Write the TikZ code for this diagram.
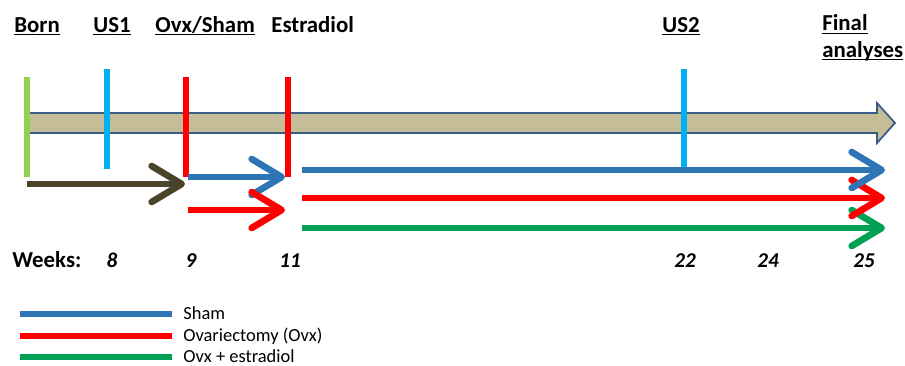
\documentclass[tikz,border=0pt]{standalone}
\usepackage{fontspec}
\setmainfont{Carlito}
\usetikzlibrary{arrows.meta}
\newcommand{\hdrline}[1]{\underline{\smash{#1}}}
\definecolor{tanbody}{HTML}{C4BD97}
\definecolor{tanedge}{HTML}{385D8A}
\definecolor{borngreen}{HTML}{92D050}
\definecolor{uscyan}{HTML}{00B0F0}
\definecolor{ovxred}{HTML}{FF0000}
\definecolor{preolive}{RGB}{74,69,42}
\definecolor{shamblue}{HTML}{2E75B6}
\definecolor{estgreen}{HTML}{00A055}
\begin{document}
\begin{tikzpicture}[x=0.02cm,y=-0.02cm,
    hdr/.style={font=\fontsize{13}{15}\selectfont\bfseries,anchor=base west,inner sep=0pt},
    wk/.style={font=\fontsize{12}{14}\selectfont\bfseries\itshape,anchor=base,inner sep=0pt},
    legtxt/.style={font=\fontsize{10.5}{12}\selectfont,anchor=base west,inner sep=0pt},
    bar/.style={line width=3.4pt},
    grp/.style={line width=3.8pt,-{Straight Barb[length=6mm,width=7.2mm,round]}},
    leg/.style={line width=3.6pt}]
    \useasboundingbox (0,0) rectangle (905,365);
    % headers
    \node[hdr] (born) at (14,32) {\hdrline{Born}};
    \node[hdr] (us1) at (93,32) {\hdrline{US1}};
    \node[hdr] (ovx) at (155,32) {\hdrline{Ovx/Sham}};
    \node[hdr] (estr) at (271,32) {Estradiol};
    \node[hdr] (us2) at (662,32) {\hdrline{US2}};
    \node[hdr] (final) at (822,31) {\hdrline{Final}};
    \node[hdr] (analyses) at (822,57) {\hdrline{analyses}};
    % time axis
    \draw[line width=1pt,draw=tanedge,fill=tanbody] (27,113) -- (877,113) -- (877,103)
        -- (895,123) -- (877,143) -- (877,133) -- (27,133) -- cycle;
    \draw[bar,borngreen] (27,77) -- (27,177);
    \draw[bar,uscyan] (107,69) -- (107,169);
    \draw[bar,ovxred] (186,77) -- (186,177);
    \draw[bar,ovxred] (288,77) -- (288,177);
    % groups
    \coordinate (pre8) at (27,184);
    \coordinate (pre9) at (185,184);
    \coordinate (shamA) at (188,177);
    \coordinate (shamB) at (285,177);
    \coordinate (ovxA) at (188,210);
    \coordinate (ovxB) at (285,210);
    \coordinate (shamC) at (302,170);
    \coordinate (shamD) at (885,170);
    \coordinate (ovxC) at (302,198);
    \coordinate (ovxD) at (885,198);
    \coordinate (estC) at (302,228);
    \coordinate (estD) at (885,228);
    \draw[grp,preolive] (pre8) -- (pre9);
    \draw[grp,shamblue] (shamA) -- (shamB);
    \draw[grp,ovxred] (ovxA) -- (ovxB);
    \draw[grp,estgreen] (estC) -- (estD);
    \draw[grp,ovxred] (ovxC) -- (ovxD);
    \draw[grp,shamblue] (shamC) -- (shamD);
    \draw[bar,uscyan] (684,69) -- (684,167);
    % weeks
    \node[hdr] (weeks) at (12,267) {Weeks:};
    \node[wk] (w8) at (112,267) {8};
    \node[wk] (w9) at (191,267) {9};
    \node[wk] (w11) at (290,267) {11};
    \node[wk] (w22) at (685,267) {22};
    \node[wk] (w24) at (768,267) {24};
    \node[wk] (w25) at (864,267) {25};
    % legend
    \draw[leg,shamblue] (20,314) -- (172,314);
    \draw[leg,ovxred] (20,336) -- (172,336);
    \draw[leg,estgreen] (20,357) -- (172,357);
    \node[legtxt] (lsham) at (183,319.5) {Sham};
    \node[legtxt] (lovx) at (183,341.5) {Ovariectomy (Ovx)};
    \node[legtxt] (lest) at (183,362.5) {Ovx + estradiol};
\end{tikzpicture}
\end{document}
